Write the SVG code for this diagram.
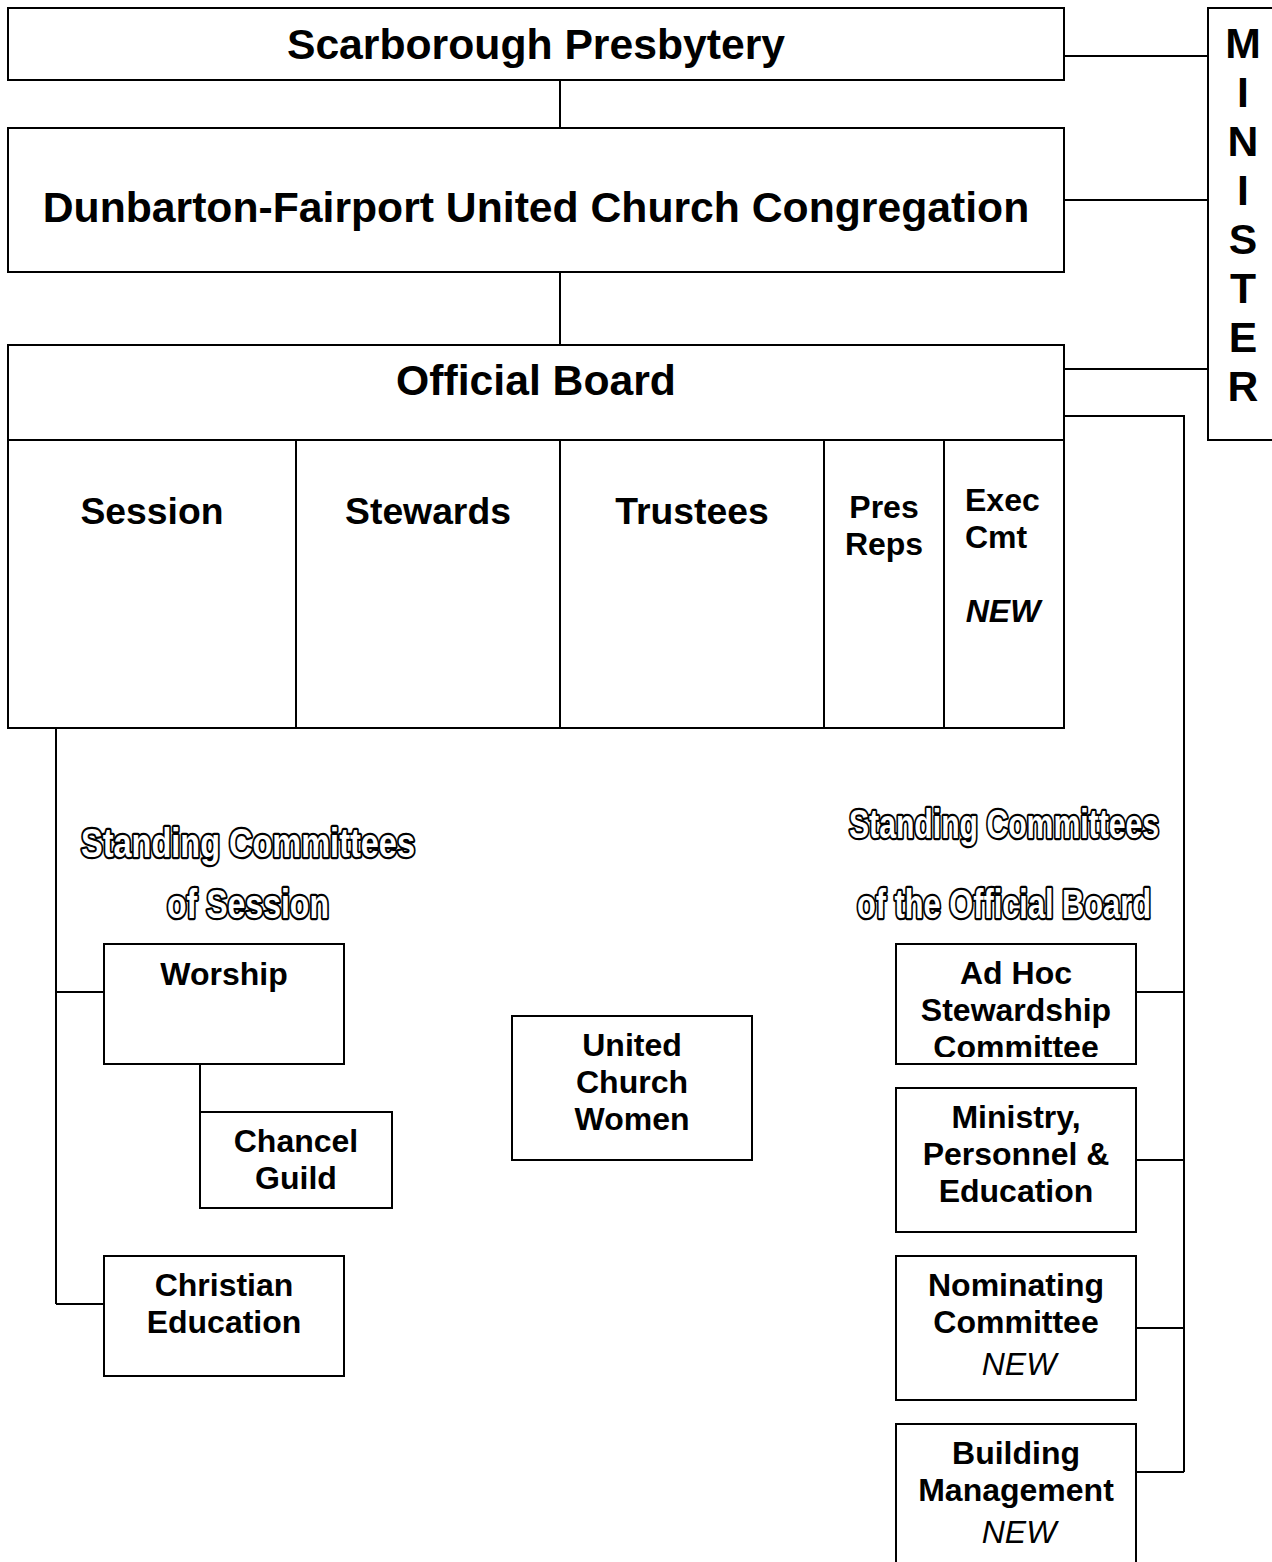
<svg xmlns="http://www.w3.org/2000/svg" width="1272" height="1562" viewBox="0 0 1272 1562">
<style>
.box{fill:#fff;stroke:#000;stroke-width:2}
.ln{fill:none;stroke:#000;stroke-width:2}
text{font-family:"Liberation Sans",Arial,sans-serif;font-weight:bold;fill:#000}
.c{text-anchor:middle}
.t32{font-size:32px}
.t43{font-size:42.7px}
.t37{font-size:37.3px}
.it{font-style:italic}
.nb{font-weight:normal}
.out{font-family:"Liberation Sans Narrow","Liberation Sans",sans-serif;font-weight:bold;font-size:41px;fill:#fff;stroke:#000;stroke-width:4.5;stroke-linejoin:round;paint-order:stroke;text-anchor:middle}
</style>
<defs>
<clipPath id="adhocClip"><rect x="896" y="944" width="240" height="113"/></clipPath>
</defs>
<rect width="1272" height="1562" fill="#fff"/>
<g id="connectors">
<path class="ln" d="M560,80V128M560,272V345M1064,56H1208M1064,200H1208M1064,369H1208M1064,416H1184V1472M1136,992H1184M1136,1160H1184M1136,1328H1184M1136,1472H1184M56,728V1304M56,992H104M56,1304H104M200,1064V1112"/>
</g>
<g id="presbytery">
<rect class="box" x="8" y="8" width="1056" height="72"/>
<text class="c t43" x="536" y="59">Scarborough Presbytery</text>
</g>
<g id="congregation">
<rect class="box" x="8" y="128" width="1056" height="144"/>
<text class="c t43" x="536" y="222">Dunbarton-Fairport United Church Congregation</text>
</g>
<g id="minister">
<rect class="box" x="1208" y="8" width="70" height="432"/>
<text class="c t43"><tspan x="1243" y="58">M</tspan><tspan x="1243" y="107">I</tspan><tspan x="1243" y="156">N</tspan><tspan x="1243" y="205">I</tspan><tspan x="1243" y="254">S</tspan><tspan x="1243" y="303">T</tspan><tspan x="1243" y="352">E</tspan><tspan x="1243" y="401">R</tspan></text>
</g>
<g id="official-board">
<rect class="box" x="8" y="345" width="1056" height="95"/>
<text class="c t43" x="536" y="395">Official Board</text>
</g>
<g id="session">
<rect class="box" x="8" y="440" width="288" height="288"/>
<text class="c t37" x="152" y="524">Session</text>
</g>
<g id="stewards">
<rect class="box" x="296" y="440" width="264" height="288"/>
<text class="c t37" x="428" y="524">Stewards</text>
</g>
<g id="trustees">
<rect class="box" x="560" y="440" width="264" height="288"/>
<text class="c t37" x="692" y="524">Trustees</text>
</g>
<g id="pres-reps">
<rect class="box" x="824" y="440" width="120" height="288"/>
<text class="c t32" x="884" y="518">Pres</text>
<text class="c t32" x="884" y="555">Reps</text>
</g>
<g id="exec-cmt">
<rect class="box" x="944" y="440" width="120" height="288"/>
<text class="t32" x="965" y="511">Exec</text>
<text class="t32" x="965" y="548">Cmt</text>
<text class="c t32 it" x="1003" y="622">NEW</text>
</g>
<g id="label-session-committees">
<text class="out" x="248" y="857" textLength="334" lengthAdjust="spacingAndGlyphs">Standing Committees</text>
<text class="out" x="248" y="918" textLength="162" lengthAdjust="spacingAndGlyphs">of Session</text>
</g>
<g id="label-board-committees">
<text class="out" x="1004" y="838" textLength="310" lengthAdjust="spacingAndGlyphs">Standing Committees</text>
<text class="out" x="1004" y="918" textLength="294" lengthAdjust="spacingAndGlyphs">of the Official Board</text>
</g>
<g id="worship">
<rect class="box" x="104" y="944" width="240" height="120"/>
<text class="c t32" x="224" y="985">Worship</text>
</g>
<g id="chancel-guild">
<rect class="box" x="200" y="1112" width="192" height="96"/>
<text class="c t32" x="296" y="1152">Chancel</text>
<text class="c t32" x="296" y="1189">Guild</text>
</g>
<g id="christian-education">
<rect class="box" x="104" y="1256" width="240" height="120"/>
<text class="c t32" x="224" y="1296">Christian</text>
<text class="c t32" x="224" y="1333">Education</text>
</g>
<g id="ucw">
<rect class="box" x="512" y="1016" width="240" height="144"/>
<text class="c t32" x="632" y="1056">United</text>
<text class="c t32" x="632" y="1093">Church</text>
<text class="c t32" x="632" y="1130">Women</text>
</g>
<g id="ad-hoc">
<rect class="box" x="896" y="944" width="240" height="120"/>
<g clip-path="url(#adhocClip)">
<text class="c t32" x="1016" y="984">Ad Hoc</text>
<text class="c t32" x="1016" y="1021">Stewardship</text>
<text class="c t32" x="1016" y="1058">Committee</text>
</g>
</g>
<g id="ministry">
<rect class="box" x="896" y="1088" width="240" height="144"/>
<text class="c t32" x="1016" y="1128">Ministry,</text>
<text class="c t32" x="1016" y="1165">Personnel &amp;</text>
<text class="c t32" x="1016" y="1202">Education</text>
</g>
<g id="nominating">
<rect class="box" x="896" y="1256" width="240" height="144"/>
<text class="c t32" x="1016" y="1296">Nominating</text>
<text class="c t32" x="1016" y="1333">Committee</text>
<text class="c t32 it nb" x="1019" y="1375">NEW</text>
</g>
<g id="building">
<path class="ln" d="M896,1562V1424H1136V1562"/>
<text class="c t32" x="1016" y="1464">Building</text>
<text class="c t32" x="1016" y="1501">Management</text>
<text class="c t32 it nb" x="1019" y="1543">NEW</text>
</g>
</svg>
